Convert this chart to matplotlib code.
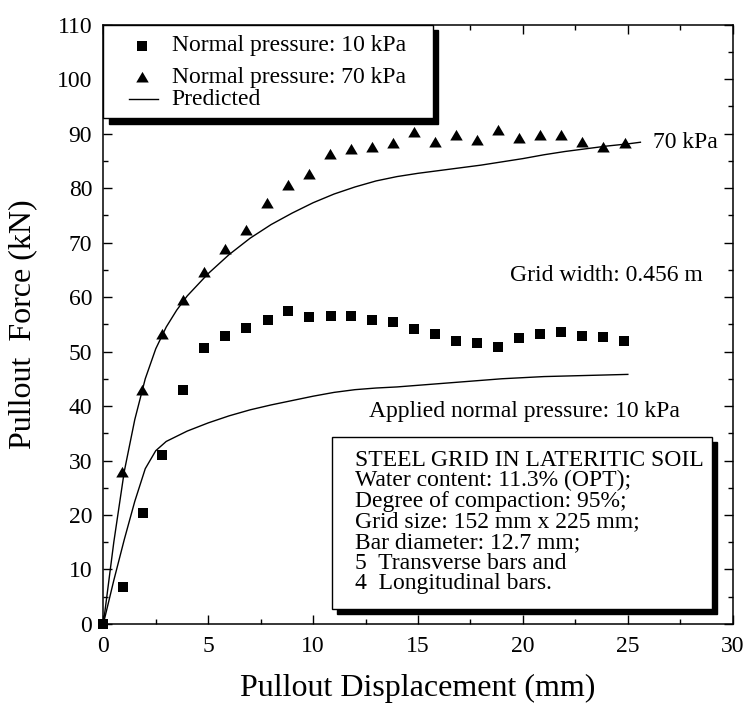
import numpy as np
import matplotlib
matplotlib.use('Agg')
import matplotlib.pyplot as plt
from matplotlib.patches import Rectangle

# Measured pullout force, 10 kPa normal pressure (squares)
disp_10 = [0, 0.95, 1.9, 2.8, 3.8, 4.8, 5.8, 6.8, 7.85, 8.8, 9.8, 10.85, 11.8,
           12.8, 13.8, 14.8, 15.8, 16.8, 17.8, 18.8, 19.8, 20.8, 21.8, 22.8, 23.8, 24.8]
force_10 = [0, 6.8, 20.4, 31.0, 42.9, 50.6, 52.8, 54.4, 55.8, 57.5, 56.4, 56.5, 56.5,
            55.7, 55.4, 54.1, 53.3, 51.9, 51.5, 50.9, 52.5, 53.3, 53.5, 52.9, 52.7, 52.0]

# Measured pullout force, 70 kPa normal pressure (triangles)
disp_70 = [0.9, 1.85, 2.8, 3.8, 4.8, 5.8, 6.8, 7.8, 8.8, 9.8, 10.8, 11.8, 12.8,
           13.8, 14.8, 15.8, 16.8, 17.8, 18.8, 19.8, 20.8, 21.8, 22.8, 23.8, 24.85]
force_70 = [27.8, 42.9, 53.3, 59.4, 64.5, 68.8, 72.3, 77.3, 80.6, 82.5, 86.2, 87.1, 87.6,
            88.2, 90.2, 88.4, 89.7, 88.9, 90.6, 89.2, 89.8, 89.8, 88.5, 87.6, 88.3]

# Predicted curves
pred_x_70 = [0, 0.5, 1, 1.5, 2, 2.5, 3, 3.5, 4, 5, 6, 7, 8, 9, 10, 11, 12, 13,
             14, 15, 16, 17, 18, 19, 20, 21, 22, 23, 24, 25, 25.6]
pred_y_70 = [0, 15, 28, 37.5, 45, 50.5, 54.5, 57.6, 60.2, 64.3, 67.8, 70.8, 73.3, 75.4,
             77.3, 78.9, 80.2, 81.3, 82.1, 82.7, 83.2, 83.7, 84.2, 84.8, 85.4, 86.1,
             86.7, 87.2, 87.7, 88.1, 88.4]
pred_x_10 = [0, 0.5, 1, 1.5, 2, 2.5, 3, 4, 5, 6, 7, 8, 9, 10, 11, 12, 13, 14, 15,
             16, 17, 18, 19, 20, 21, 22, 23, 24, 25]
pred_y_10 = [0, 8, 15.5, 22.5, 28.5, 31.8, 33.5, 35.4, 36.9, 38.2, 39.3, 40.2, 41.0,
             41.8, 42.5, 43.0, 43.3, 43.5, 43.8, 44.1, 44.4, 44.7, 45.0, 45.2, 45.4,
             45.5, 45.6, 45.7, 45.8]

legend_labels = ['Normal pressure: 10 kPa', 'Normal pressure: 70 kPa', 'Predicted']
info_lines = ['STEEL GRID IN LATERITIC SOIL',
              'Water content: 11.3% (OPT);',
              'Degree of compaction: 95%;',
              'Grid size: 152 mm x 225 mm;',
              'Bar diameter: 12.7 mm;',
              '5  Transverse bars and',
              '4  Longitudinal bars.']

plt.rcParams['font.family'] = ['Liberation Serif', 'DejaVu Serif']

# slightly flattened triangle, like the original symbol
tri = [(-1.0, -0.8), (1.0, -0.8), (0.0, 0.9), (-1.0, -0.8)]
sq_ms, tri_ms = 7.8, 9.0

fig = plt.figure(figsize=(7.48, 7.09), dpi=100)
ax = fig.add_axes([0.1381, 0.1199, 0.8415, 0.8455])

ax.plot(pred_x_70, pred_y_70, 'k-', lw=1.0)
ax.plot(pred_x_10, pred_y_10, 'k-', lw=1.0)
ax.plot(disp_10, force_10, 'ks', ms=sq_ms, mew=0, clip_on=False, zorder=3)
ax.plot(disp_70, force_70, color='k', ls='none', marker=tri, ms=tri_ms, mew=0,
        clip_on=False, zorder=3)

ax.set_xlim(0, 30)
ax.set_ylim(0, 110)
ax.set_xticks(np.arange(0, 31, 5))
ax.set_xticks(np.arange(0, 31, 2.5), minor=True)
ax.set_yticks(np.arange(0, 111, 10))
ax.set_yticks(np.arange(0, 111, 5), minor=True)
ax.tick_params(which='both', direction='in', top=True, right=True, width=1.0)
ax.tick_params(which='major', length=6.5, labelsize=17)
ax.tick_params(axis='x', which='major', pad=9)
ax.tick_params(axis='y', which='major', pad=8)
ax.tick_params(which='minor', length=3.6)
for sp in ax.spines.values():
    sp.set_linewidth(1.1)

ax.set_xlabel('Pullout Displacement (mm)', fontsize=23, labelpad=12)
ax.set_ylabel('Pullout  Force (kN)', fontsize=23, labelpad=14)

# annotations
ax.text(26.2, 88.3, '70 kPa', fontsize=17, va='center', ha='left')
ax.text(19.4, 64.0, 'Grid width: 0.456 m', fontsize=17, va='center', ha='left')
ax.text(12.67, 39.0, 'Applied normal pressure: 10 kPa', fontsize=17, va='center', ha='left')

# info box with solid shadow
sx, sy = 0.0085, 0.009
bx0, by0, bx1, by1 = 0.363, 0.025, 0.967, 0.3124
ax.add_patch(Rectangle((bx0 + sx, by0 - sy), bx1 - bx0, by1 - by0, transform=ax.transAxes,
                       facecolor='black', edgecolor='black', zorder=4, clip_on=False))
ax.add_patch(Rectangle((bx0, by0), bx1 - bx0, by1 - by0, transform=ax.transAxes,
                       facecolor='white', edgecolor='black', lw=1.0, zorder=5, clip_on=False))
ax.text(0.3995, 0.2905, '\n'.join(info_lines), transform=ax.transAxes, fontsize=17,
        va='top', ha='left', linespacing=0.97, zorder=6)

# legend box drawn by hand (uneven spacing as in the original)
lx0, ly0, lx1, ly1 = 0.0, 0.8435, 0.524, 1.0
ax.add_patch(Rectangle((lx0 + sx, ly0 - sy), lx1 - lx0, ly1 - ly0, transform=ax.transAxes,
                       facecolor='black', edgecolor='black', zorder=4, clip_on=False))
ax.add_patch(Rectangle((lx0, ly0), lx1 - lx0, ly1 - ly0, transform=ax.transAxes,
                       facecolor='white', edgecolor='black', lw=1.0, zorder=5, clip_on=False))
ax.plot([0.061], [0.9646], 'ks', ms=sq_ms, mew=0, transform=ax.transAxes, zorder=6,
        clip_on=False)
ax.plot([0.061], [0.912], color='k', ls='none', marker=tri, ms=tri_ms, mew=0,
        transform=ax.transAxes, zorder=6, clip_on=False)
ax.plot([0.041, 0.0867], [0.8757, 0.8757], 'k-', lw=1.0, transform=ax.transAxes,
        zorder=6, clip_on=False)
for yy, lab in zip([0.9646, 0.912, 0.8757], legend_labels):
    ax.text(0.1085, yy, lab, transform=ax.transAxes, fontsize=17, va='center',
            ha='left', zorder=6)

fig.savefig('out.png', dpi=100)
